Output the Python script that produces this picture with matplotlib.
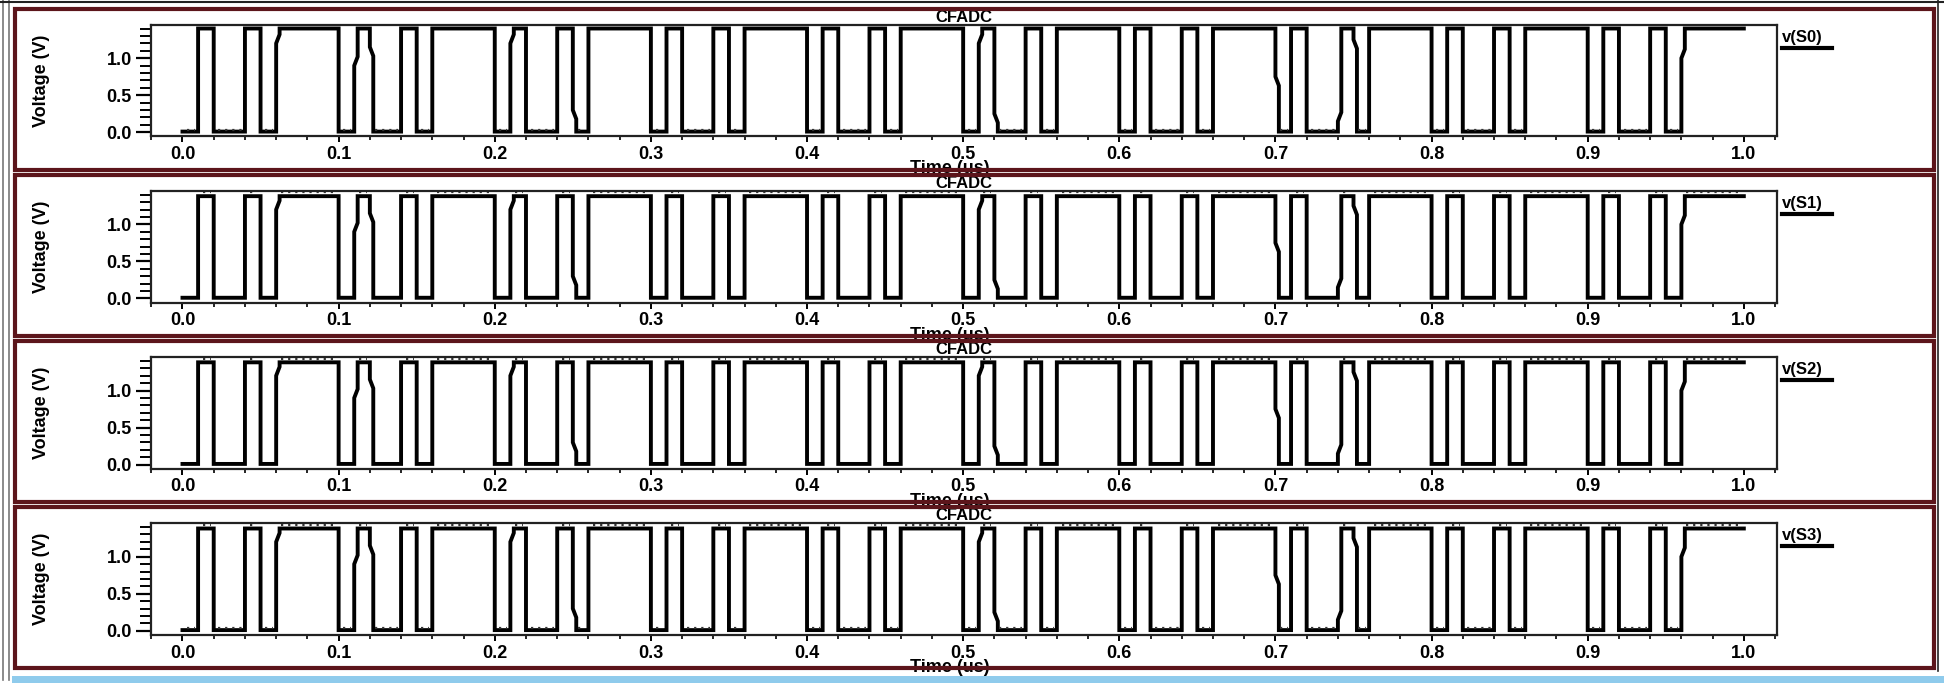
import matplotlib.pyplot as plt
from matplotlib.patches import Rectangle
from matplotlib.lines import Line2D
from matplotlib.ticker import MultipleLocator

plt.rcParams['font.family'] = ['Liberation Sans', 'DejaVu Sans']
plt.rcParams['font.weight'] = 'bold'

signals = ['S0', 'S1', 'S2', 'S3']

# edge times in us (all four bits switch together)
rise_times = [0.01, 0.04, 0.06, 0.11, 0.14, 0.16, 0.21, 0.24, 0.26, 0.31, 0.34, 0.36,
              0.41, 0.44, 0.46, 0.51, 0.54, 0.56, 0.61, 0.64, 0.66, 0.71, 0.74, 0.76,
              0.81, 0.84, 0.86, 0.91, 0.94, 0.96]
fall_times = [0.02, 0.05, 0.10, 0.12, 0.15, 0.20, 0.22, 0.25, 0.30, 0.32, 0.35, 0.40,
              0.42, 0.45, 0.50, 0.52, 0.55, 0.60, 0.62, 0.65, 0.70, 0.72, 0.75, 0.80,
              0.82, 0.85, 0.90, 0.92, 0.95]
t_start = 0.0
t_stop = 1.0

high_level = [1.40, 1.38, 1.38, 1.38]
low_level = [0.01, 0.01, 0.01, 0.01]
# ripple seen on the high / low plateaus (None = clean)
high_ripple = [None, 1.43, 1.43, 1.43]
low_ripple = [0.035, None, None, 0.035]

# slow edges: edge time -> voltage where the edge bends
kinks = {0.06: 1.2, 0.11: 0.9, 0.12: 1.15, 0.21: 1.2, 0.25: 0.3, 0.51: 1.2,
         0.52: 0.25, 0.70: 0.75, 0.74: 0.15, 0.75: 1.25, 0.96: 1.0}

x_ticks = [0.0, 0.1, 0.2, 0.3, 0.4, 0.5, 0.6, 0.7, 0.8, 0.9, 1.0]
y_ticks = [0.0, 0.5, 1.0]


def build_trace(high, low):
    events = sorted([(t, True) for t in rise_times] + [(t, False) for t in fall_times])
    ts, vs = [t_start], [low]
    for t, up in events:
        a, b = (low, high) if up else (high, low)
        ts.append(t)
        vs.append(a)
        if t in kinks:
            # vertical to the bend, short jog, then vertical again
            k = kinks[t]
            k2 = k + (0.12 if up else -0.12)
            ts += [t, t + 0.0022, t + 0.0022]
            vs += [k, k2, b]
        else:
            ts.append(t)
            vs.append(b)
    ts.append(t_stop)
    vs.append(high)
    return ts, vs


def plateaus(up):
    # intervals where the trace sits high (up=True) or low
    if up:
        starts = rise_times
        ends = fall_times + [t_stop]
    else:
        starts = [t_start] + fall_times
        ends = rise_times
    return starts, ends


fig = plt.figure(figsize=(19.44, 6.87), dpi=100)
GW, GH = 1568.0, 554.0
maroon = '#5c151b'

for i, name in enumerate(signals):
    off = 134 * i
    ax = fig.add_axes([122 / GW, 1 - (110 + off) / GH, 1311 / GW, 90 / GH])
    ts, vs = build_trace(high_level[i], low_level[i])
    ax.plot(ts, vs, color='black', lw=2.8, solid_joinstyle='miter')

    if high_ripple[i] is not None:
        s, e = plateaus(True)
        ax.hlines([high_ripple[i]] * len(s), [a + 0.003 for a in s], [b - 0.002 for b in e],
                  colors='#333333', lw=1.6, linestyles=(0, (1, 2.2)))
    if low_ripple[i] is not None:
        s, e = plateaus(False)
        ax.hlines([low_ripple[i]] * len(s), [a + 0.003 for a in s], [b - 0.002 for b in e],
                  colors='#333333', lw=1.6, linestyles=(0, (1, 2.2)))

    ax.set_xlim(-0.02, 1.021)
    ax.set_ylim(-0.055, 1.45)
    ax.set_xticks(x_ticks)
    ax.set_yticks(y_ticks)
    ax.xaxis.set_minor_locator(MultipleLocator(0.02))
    ax.yaxis.set_minor_locator(MultipleLocator(0.1))
    ax.tick_params(axis='x', which='major', direction='out', length=4, width=1.4,
                   labelsize=13, pad=3)
    ax.tick_params(axis='x', which='minor', direction='out', length=3, width=1.2)
    ax.tick_params(axis='y', which='major', direction='out', length=11, width=1.6,
                   labelsize=13, pad=3)
    ax.tick_params(axis='y', which='minor', direction='out', length=8, width=1.4)
    for sp in ax.spines.values():
        sp.set_linewidth(1.6)
        sp.set_color('#222222')

    ax.set_title('CFADC', fontsize=12, fontweight='bold', pad=1)
    ax.set_xlabel('Time (us)', fontsize=13, fontweight='bold')
    ax.xaxis.set_label_coords(0.491, -0.215)
    ax.set_ylabel('Voltage (V)', fontsize=13, fontweight='bold')
    ax.yaxis.set_label_coords(-0.062, 0.5)

    # legend entry on the right
    fig.text(1437 / GW, 1 - (30 + off) / GH, 'v(%s)' % name, fontsize=12,
             fontweight='bold', ha='left', va='center')
    fig.add_artist(Line2D([1437 / GW, 1478 / GW], [1 - (38.5 + off) / GH] * 2,
                          color='black', lw=3))

    # maroon frame around each panel, drawn above the axis label
    fig.add_artist(Rectangle((12 / GW, 1 - (137 + off) / GH), 1548 / GW, 130 / GH,
                             fill=False, edgecolor=maroon, lw=3, zorder=10))

# outer window edges
fig.add_artist(Line2D([3 / 1944] * 2, [0.01, 1.0], color='#777777', lw=1.2))
fig.add_artist(Line2D([9 / 1944] * 2, [0.01, 1.0], color='#777777', lw=1.2))
fig.add_artist(Line2D([1563 / GW] * 2, [1 - 541 / GH, 1.0], color='#222222', lw=1.2))
fig.add_artist(Line2D([0, 1], [0.997, 0.997], color='#222222', lw=1.5))
fig.add_artist(Rectangle((10 / GW, 1 - 551 / GH), 1 - 10 / GW, 6 / GH,
                         facecolor='#8fcbec', edgecolor='none', zorder=9))

fig.savefig('out.png', dpi=100)
